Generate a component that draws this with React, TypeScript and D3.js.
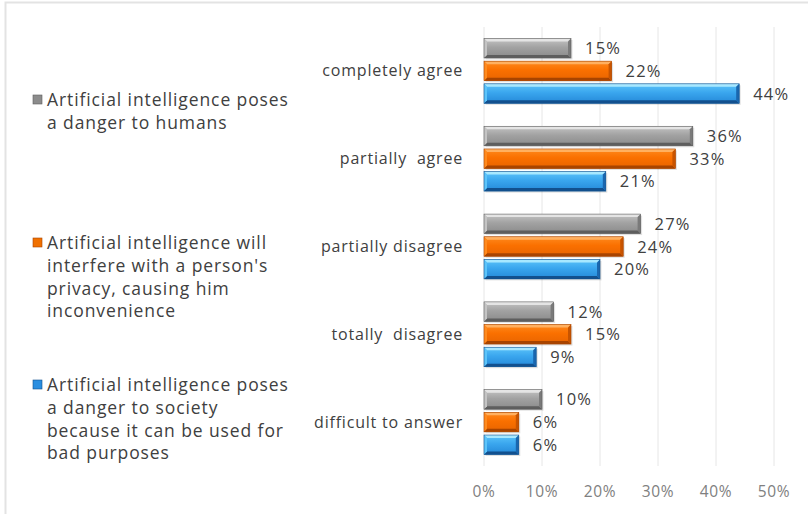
import React from "react";
import * as d3 from "d3";

const categories = ["completely agree", "partially  agree", "partially disagree", "totally  disagree", "difficult to answer"];
const seriesNames = [
  "Artificial intelligence poses a danger to humans",
  "Artificial intelligence will interfere with a person's privacy, causing him inconvenience",
  "Artificial intelligence poses a danger to society because it can be used for bad purposes",
];
const legendLines = [
  ["Artificial intelligence poses", "a danger to humans"],
  ["Artificial intelligence will", "interfere with a person's", "privacy, causing him", "inconvenience"],
  ["Artificial intelligence poses", "a danger to society", "because it can be used for", "bad purposes"],
];
const humans = [15, 36, 27, 12, 10];
const privacy = [22, 33, 24, 15, 6];
const society = [44, 21, 20, 9, 6];
const ticks = [0, 10, 20, 30, 40, 50];

const seriesValues = [humans, privacy, society];
const palettes = [
  { light: "#e4e4e4", top: "#c4c4c4", mid: "#a2a2a2", bot: "#8a8a8a", dark: "#5e5e5e", side: "#7a7a7a", marker: "#8c8c8c" },
  { light: "#ffb060", top: "#ff8a1e", mid: "#fa7000", bot: "#e86400", dark: "#a84400", side: "#c85400", marker: "#f07000" },
  { light: "#a8e8ff", top: "#5cc4fa", mid: "#3aa6ee", bot: "#2488d8", dark: "#12508e", side: "#1a66ae", marker: "#2a8ee0" },
];
const FONT = "'Open Sans', sans-serif";

export default function App() {
  const W = 808, H = 514;
  const x = d3.scaleLinear().domain([0, 50]).range([484, 774]);
  const y = d3.scaleBand<string>().domain(categories).range([27, 466]);
  const legendStarts = [100, 243, 385];

  return (
    <svg width={W} height={H} style={{ position: "absolute", left: 0, top: 0, background: "#fff" }}>
      <defs>
        {palettes.map((p, i) => (
          <linearGradient key={i} id={`g${i}`} x1="0" y1="0" x2="0" y2="1">
            <stop offset="0" stopColor={p.top} />
            <stop offset="0.45" stopColor={p.mid} />
            <stop offset="1" stopColor={p.bot} />
          </linearGradient>
        ))}
      </defs>
      <rect x={0} y={0} width={W} height={H} fill="#fff" />
      <path d={`M5.5,${H} V2.5 H${W}`} fill="none" stroke="#e3e3e3" strokeWidth={2} />
      {ticks.map((t) => (
        <g key={t}>
          <line x1={x(t)} x2={x(t)} y1={27} y2={466} stroke="#e6e6e6" strokeWidth={1} />
          <text x={x(t)} y={497} textAnchor="middle" fontFamily={FONT} fontSize={15.5} letterSpacing={0.6} fill="#808080">{`${t}%`}</text>
        </g>
      ))}
      {categories.map((c, ci) => {
        const cy = (y(c) as number) + y.bandwidth() / 2;
        const inner = d3.scaleBand<number>().domain([0, 1, 2]).range([cy - 34, cy + 34]).paddingInner(0.14).paddingOuter(0.07);
        return (
          <g key={c}>
            <text x={463} y={cy + 5.5} textAnchor="end" fontFamily={FONT} fontSize={16} letterSpacing={0.8} fill="#404040" style={{ whiteSpace: "pre" }}>{c}</text>
            {seriesValues.map((vals, si) => {
              const p = palettes[si];
              const v = vals[ci];
              const x0 = x(0), x1 = x(v);
              const by = inner(si) as number;
              const bh = inner.bandwidth();
              const b = 3;
              return (
                <g key={si}>
                  <rect x={x0 + 1.5} y={by + 1.5} width={x1 - x0} height={bh} fill="#000" opacity={0.12} />
                  <rect x={x0} y={by} width={x1 - x0} height={bh} fill={`url(#g${si})`} />
                  <polygon points={`${x0},${by} ${x1},${by} ${x1 - b},${by + b} ${x0 + b},${by + b}`} fill={p.light} />
                  <polygon points={`${x0},${by + bh} ${x1},${by + bh} ${x1 - b},${by + bh - b} ${x0 + b},${by + bh - b}`} fill={p.dark} />
                  <polygon points={`${x1},${by} ${x1},${by + bh} ${x1 - b},${by + bh - b} ${x1 - b},${by + b}`} fill={p.side} />
                  <polygon points={`${x0},${by} ${x0},${by + bh} ${x0 + b},${by + bh - b} ${x0 + b},${by + b}`} fill={p.top} />
                  <rect x={x0} y={by} width={x1 - x0} height={bh} fill="none" stroke={p.dark} strokeWidth={0.6} />
                  <text x={x1 + 14} y={by + bh / 2 + 6} fontFamily={FONT} fontSize={16.5} letterSpacing={1.2} fill="#404040">{`${v}%`}</text>
                </g>
              );
            })}
          </g>
        );
      })}
      {legendLines.map((lines, li) => (
        <g key={li}>
          <title>{seriesNames[li]}</title>
          <rect x={33} y={legendStarts[li] - 5} width={9} height={9} fill={palettes[li].marker} stroke={palettes[li].dark} strokeWidth={0.6} />
          {lines.map((ln, k) => (
            <text key={k} x={47} y={legendStarts[li] + 6 + k * 22.8} fontFamily={FONT} fontSize={17.5} letterSpacing={0.9} fill="#404040">{ln}</text>
          ))}
        </g>
      ))}
    </svg>
  );
}
